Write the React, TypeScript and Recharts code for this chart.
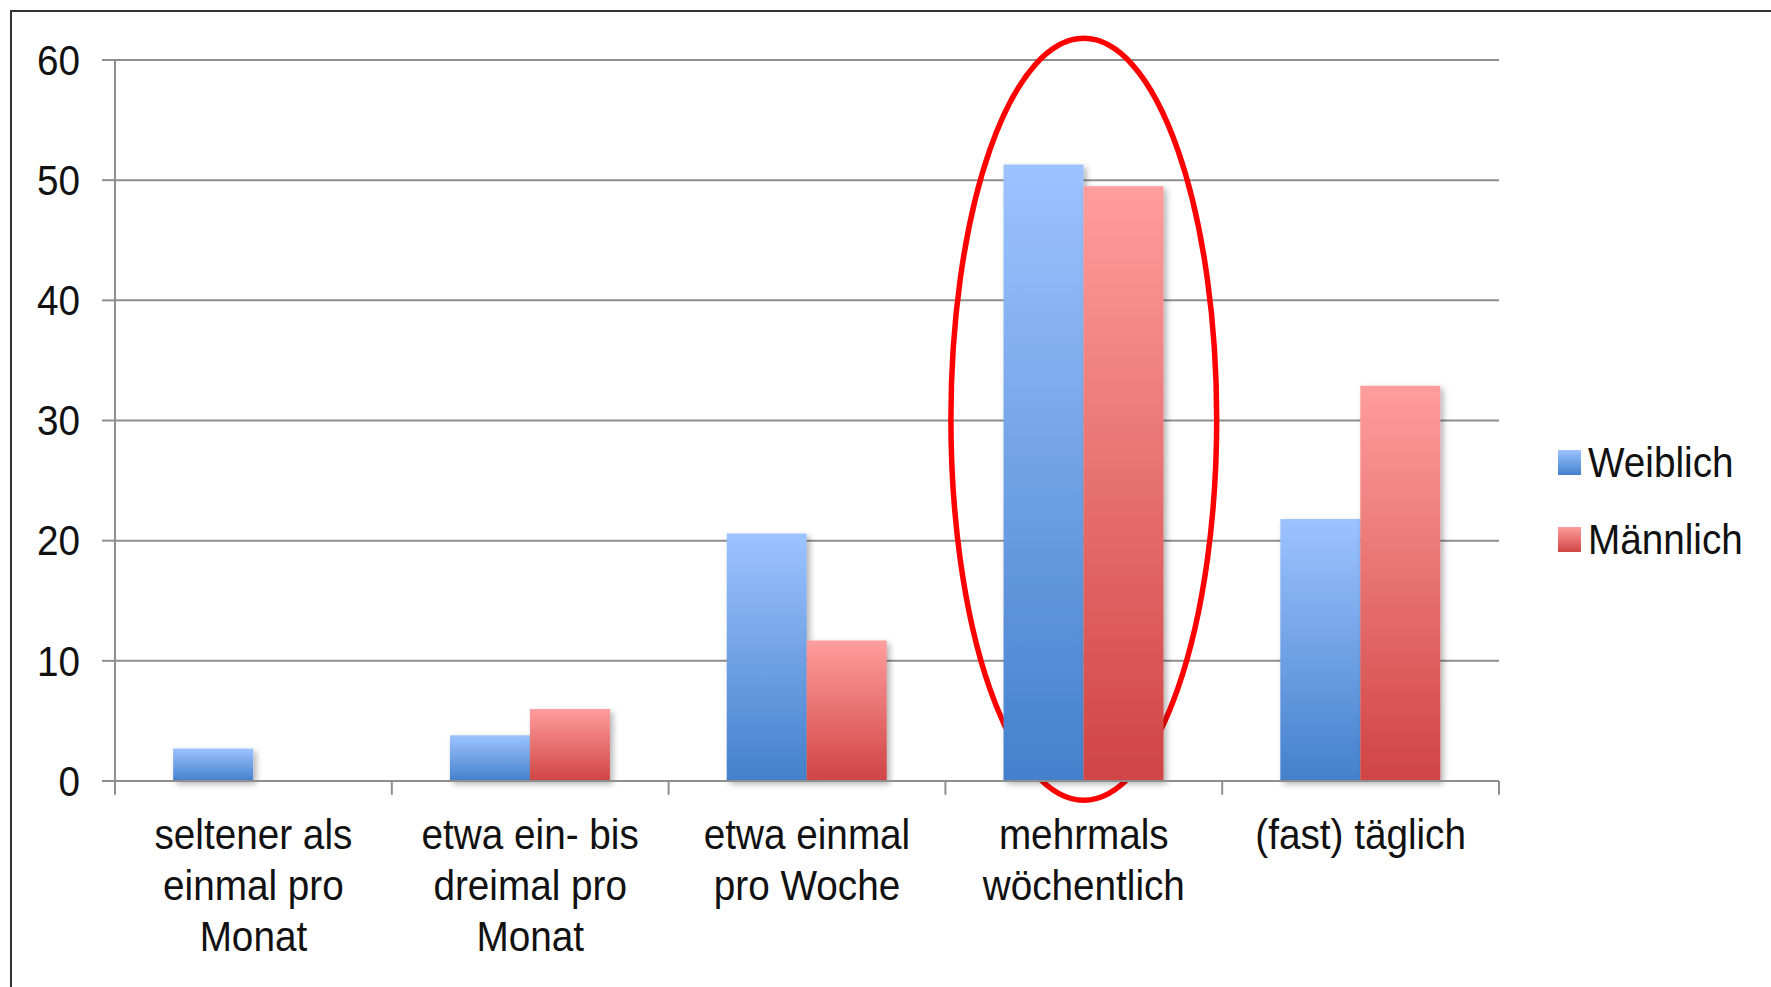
import React from 'react';
import {
  BarChart,
  Bar,
  XAxis,
  YAxis,
  CartesianGrid,
  ReferenceArea,
  ReferenceLine,
} from 'recharts';

const categories = [
  'seltener als\neinmal pro\nMonat',
  'etwa ein- bis\ndreimal pro\nMonat',
  'etwa einmal\npro Woche',
  'mehrmals\nwöchentlich',
  '(fast) täglich',
];
const weiblich = [2.7, 3.8, 20.6, 51.3, 21.8];
const maennlich = [0, 6.0, 11.7, 49.5, 32.9];
const yTicks = [0, 10, 20, 30, 40, 50, 60];
const seriesNames = ['Weiblich', 'Männlich'];
const highlighted = 'mehrmals\nwöchentlich';

const FONT = '"Liberation Sans", Arial, sans-serif';
const GRID = '#8e8e8e';

const chartData = categories.map((c, i) => ({
  name: c,
  Weiblich: weiblich[i],
  Männlich: maennlich[i],
}));

const YTick = ({ x, y, payload }: any) => (
  <g transform={`translate(${x},${y})`}>
    <text
      transform="scale(0.9,1)"
      textAnchor="end"
      dominantBaseline="central"
      fontSize={43}
      fontFamily={FONT}
      fill="#111"
    >
      {payload.value}
    </text>
  </g>
);

const XTick = ({ x, y, payload }: any) => {
  const lines = String(payload.value).split('\n');
  return (
    <g transform={`translate(${x},${y})`}>
      <text transform="scale(0.9,1)" textAnchor="middle" fontSize={43} fontFamily={FONT} fill="#111">
        {lines.map((l, i) => (
          <tspan key={i} x={0} y={68 + i * 51}>
            {l}
          </tspan>
        ))}
      </text>
    </g>
  );
};

// legend sits outside the chart so it doesn't eat plot height
const LegendBox = () => (
  <svg width={231} height={170} style={{ position: 'absolute', left: 1540, top: 420 }}>
    {seriesNames.map((s, i) => (
      <g key={s} transform={`translate(18,${20 + i * 77})`}>
        <rect x={0} y={10} width={23} height={25} fill={i === 0 ? 'url(#gradBlue)' : 'url(#gradRed)'} />
        <g transform="translate(30,37)">
          <text transform="scale(0.9,1)" fontSize={43} fontFamily={FONT} fill="#111">
            {s}
          </text>
        </g>
      </g>
    ))}
  </svg>
);

const Ellipse = ({ x, y, width, height }: any) => (
  <ellipse
    cx={x + width / 2}
    cy={y + height / 2}
    rx={width / 2 - 5.5}
    ry={height / 2}
    fill="none"
    stroke="#ff0000"
    strokeWidth={5.5}
  />
);

export default function App() {
  return (
    <div
      style={{
        position: 'fixed',
        left: 0,
        top: 0,
        width: 1771,
        height: 987,
        background: '#fff',
        overflow: 'hidden',
      }}
    >
      <div
        style={{
          position: 'absolute',
          left: 10,
          top: 10,
          width: 1800,
          height: 1000,
          borderLeft: '2.5px solid #333',
          borderTop: '2.5px solid #333',
        }}
      />
      <div style={{ position: 'absolute', left: 0, top: 0 }}>
        <BarChart
          width={1771}
          height={987}
          data={chartData}
          margin={{ top: 60, right: 272, bottom: 0, left: 0 }}
          barCategoryGap="21%"
          barGap={0}
        >
          <defs>
            <linearGradient id="gradBlue" x1="0" y1="0" x2="0" y2="1">
              <stop offset="0%" stopColor="#9dc3ff" />
              <stop offset="100%" stopColor="#4480cc" />
            </linearGradient>
            <linearGradient id="gradRed" x1="0" y1="0" x2="0" y2="1">
              <stop offset="0%" stopColor="#ff9d9d" />
              <stop offset="100%" stopColor="#d04444" />
            </linearGradient>
            <filter id="barShadow" x="-20%" y="-20%" width="150%" height="150%">
              <feDropShadow dx={3} dy={3} stdDeviation={3} floodColor="#000" floodOpacity={0.3} />
            </filter>
          </defs>
          <CartesianGrid horizontal vertical={false} stroke={GRID} strokeWidth={2} />
          <XAxis
            dataKey="name"
            height={206}
            interval={0}
            tickLine={false}
            tickSize={0}
            tickMargin={0}
            axisLine={{ stroke: GRID, strokeWidth: 2 }}
            tick={<XTick />}
          />
          <YAxis
            width={115}
            domain={[0, 60]}
            ticks={yTicks}
            interval={0}
            tickSize={13}
            tickMargin={22}
            tickLine={{ stroke: GRID, strokeWidth: 2 }}
            axisLine={{ stroke: GRID, strokeWidth: 2 }}
            tick={<YTick />}
          />
          <Bar dataKey="Weiblich" fill="url(#gradBlue)" filter="url(#barShadow)" isAnimationActive={false} />
          <Bar dataKey="Männlich" fill="url(#gradRed)" filter="url(#barShadow)" isAnimationActive={false} />
          {categories.map((c) => (
            <ReferenceLine
              key={c}
              segment={[
                { x: c, y: 0 },
                { x: c, y: -1.15 },
              ]}
              position="start"
              ifOverflow="visible"
              stroke={GRID}
              strokeWidth={2}
            />
          ))}
          <ReferenceLine
            segment={[
              { x: categories[categories.length - 1], y: 0 },
              { x: categories[categories.length - 1], y: -1.15 },
            ]}
            position="end"
            ifOverflow="visible"
            stroke={GRID}
            strokeWidth={2}
          />
          <ReferenceArea
            x1={highlighted}
            x2={highlighted}
            y1={-1.6}
            y2={61.8}
            ifOverflow="visible"
            shape={<Ellipse />}
          />
        </BarChart>
      </div>
      <LegendBox />
    </div>
  );
}
